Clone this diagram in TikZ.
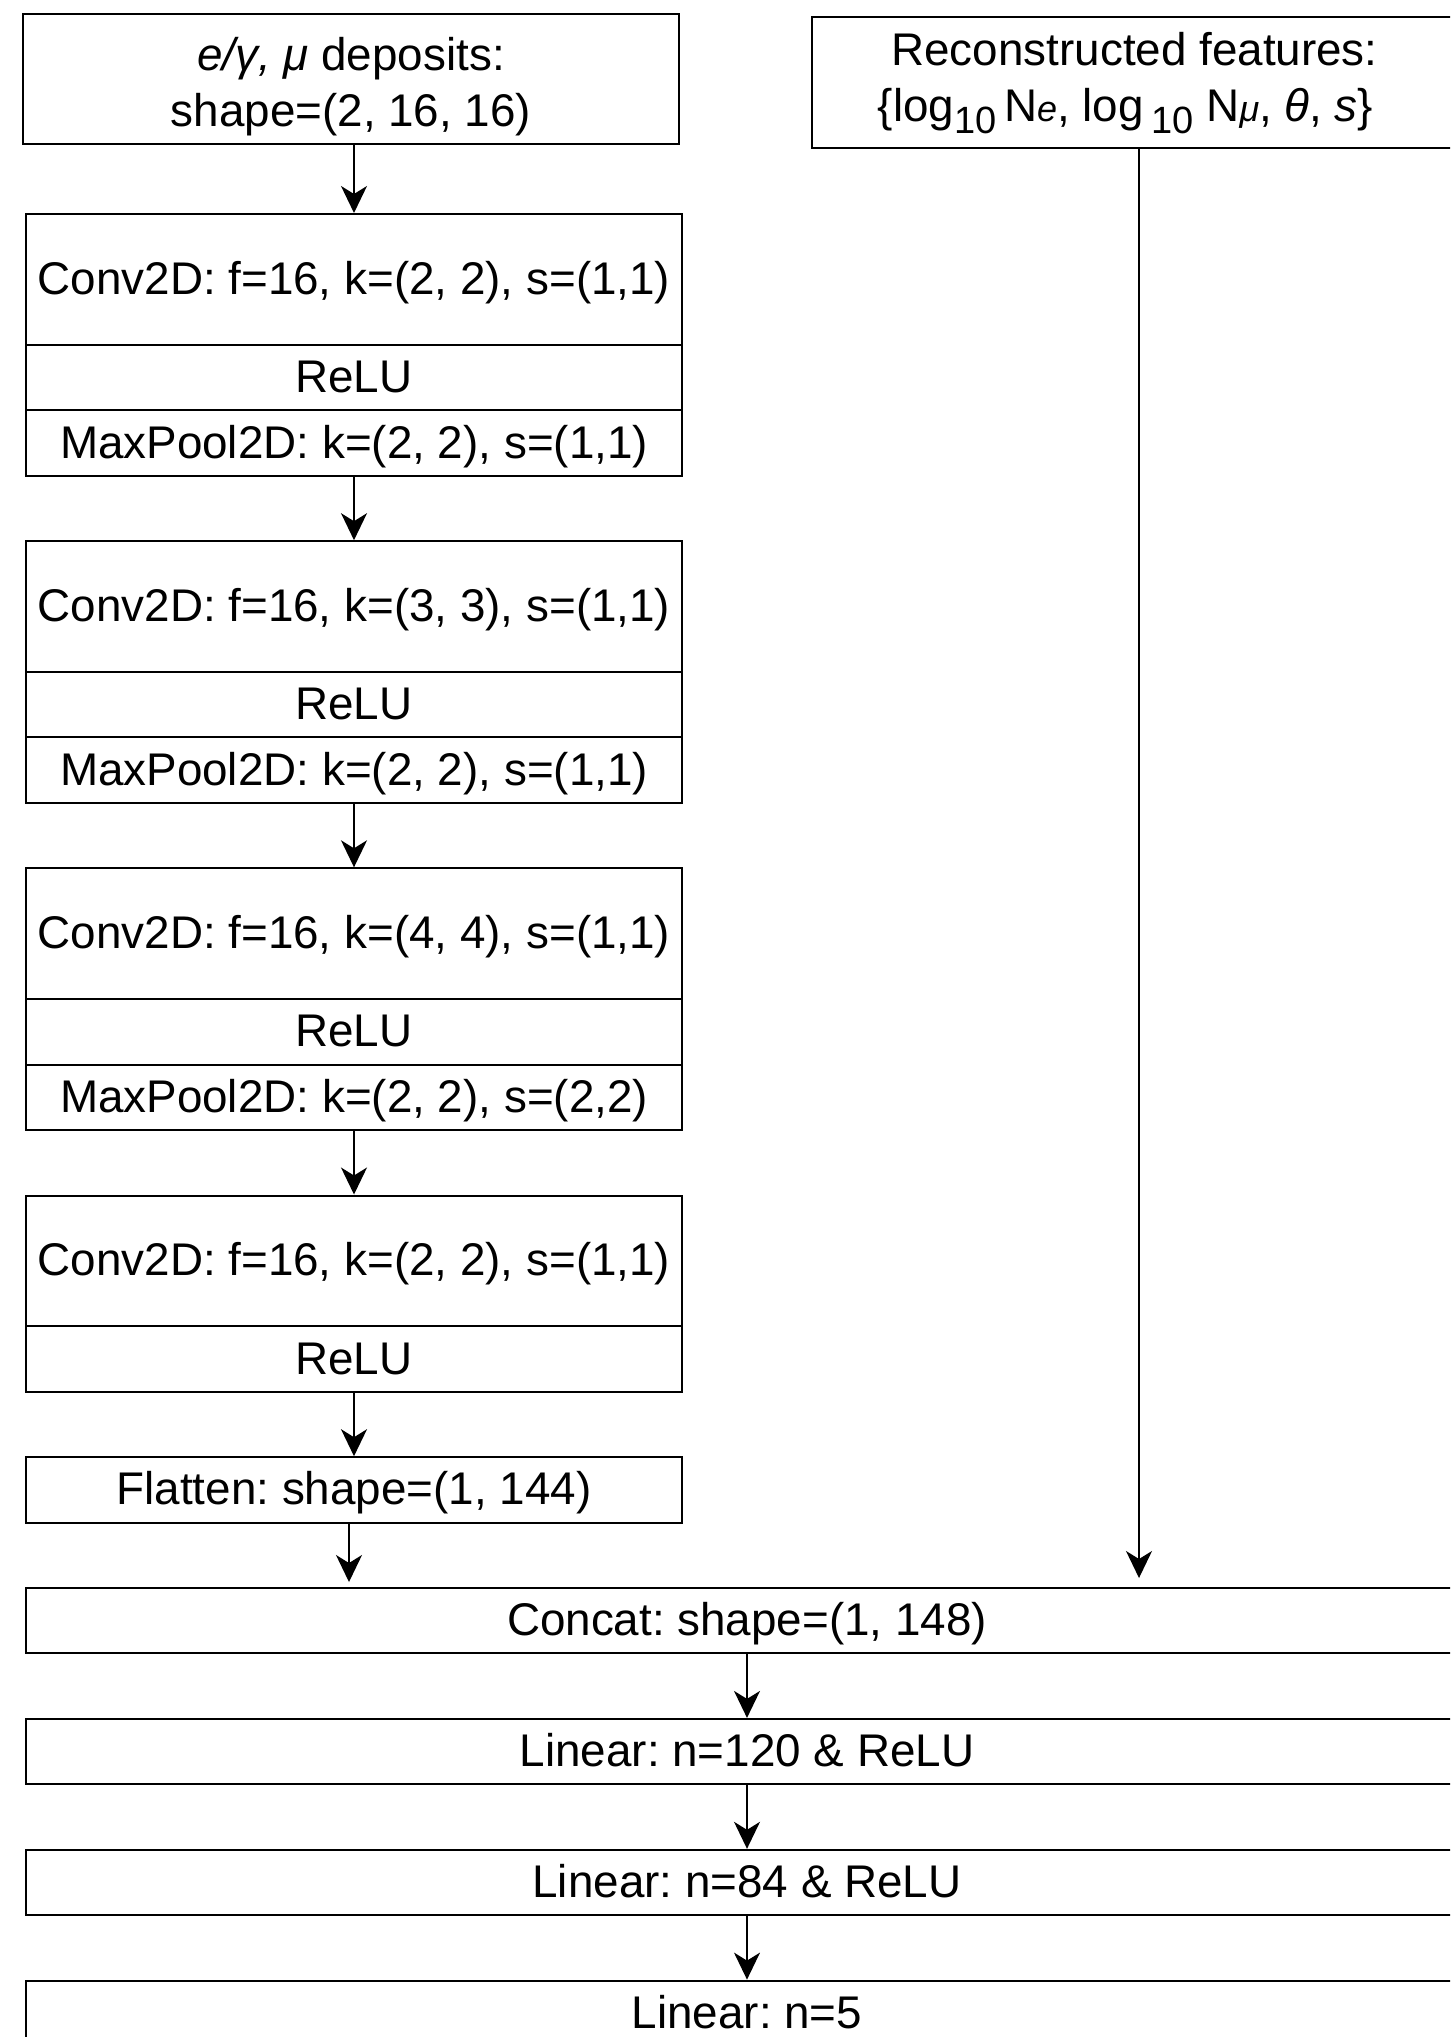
\documentclass[tikz,border=0pt]{standalone}
\usepackage{fontspec}
\setmainfont{Liberation Sans}
\usetikzlibrary{arrows.meta}
% lowered, reduced subscript used in the feature list
\newcommand{\lowten}{\raisebox{-6pt}{\fontsize{19}{19}\selectfont 10}}
\newcommand{\smallit}[1]{{\fontsize{18}{18}\selectfont\itshape #1}}

\begin{document}
\frenchspacing
\begin{tikzpicture}[x=0.5pt,y=-0.5pt,
  font=\fontsize{22.9}{28}\selectfont,
  box/.style={draw, line width=1pt, inner sep=0pt, anchor=north west, align=center},
  oneline/.style={text height=16pt, text depth=1pt},
  col/.style={box, oneline, minimum width=328pt},
  wide/.style={box, oneline, minimum width=721pt, minimum height=32.715pt},
  convrow/.style={col, minimum height=65.43pt},
  row/.style={col, minimum height=32.715pt},
  arr/.style={line width=0.8pt, -{Stealth[length=13.5pt,width=13pt,inset=4pt]}}]

\useasboundingbox (0,0) rectangle (1450,2037);
\clip (0,0) rectangle (1450,2037);

% inputs
\node[box, minimum width=328pt, minimum height=65pt] (inp) at (22,13) {};
\node[align=center, inner sep=0pt] (inptext) at ([yshift=-3.6pt]inp.center)
  {{\itshape e/γ, μ} deposits:\\shape=(2, 16, 16)};
\node[box, minimum width=322.5pt, minimum height=65.75pt] (feat) at (811,16)
  {Reconstructed features:\\\{log\lowten\,N\smallit{e}, log\,\lowten{} N\smallit{μ}, \textit{θ}, \textit{s}\}\hspace*{9pt}};

% convolutional blocks
\node[convrow] (c1) at (25,213)    {Conv2D: f=16, k=(2, 2), s=(1,1)};
\node[row]     (r1) at (25,343.9)  {ReLU};
\node[row]     (p1) at (25,409.3)  {MaxPool2D: k=(2, 2), s=(1,1)};

\node[convrow] (c2) at (25,540.2)  {Conv2D: f=16, k=(3, 3), s=(1,1)};
\node[row]     (r2) at (25,671.0)  {ReLU};
\node[row]     (p2) at (25,736.4)  {MaxPool2D: k=(2, 2), s=(1,1)};

\node[convrow] (c3) at (25,867.3)  {Conv2D: f=16, k=(4, 4), s=(1,1)};
\node[row]     (r3) at (25,998.2)  {ReLU};
\node[row]     (p3) at (25,1063.6) {MaxPool2D: k=(2, 2), s=(2,2)};

\node[convrow] (c4) at (25,1194.5) {Conv2D: f=16, k=(2, 2), s=(1,1)};
\node[row]     (r4) at (25,1325.3) {ReLU};

\node[row]     (fl) at (25,1456.2) {Flatten: shape=(1, 144)};

% dense head
\node[wide] (cat) at (25,1587.0) {Concat: shape=(1, 148)};
\node[wide] (l1)  at (25,1717.9) {Linear: n=120 \& ReLU};
\node[wide] (l2)  at (25,1848.8) {Linear: n=84 \& ReLU};
\node[wide] (l3)  at (25,1979.6) {Linear: n=5};

% free ends of the two arrows entering the concat layer
\coordinate (catL) at (349,1582);
\coordinate (catR) at (1139,1578);

% connectors
\draw[arr] (c1.north |- inp.south) -- (c1.north);
\draw[arr] (p1.south) -- (c2.north);
\draw[arr] (p2.south) -- (c3.north);
\draw[arr] (p3.south) -- (c4.north);
\draw[arr] (r4.south) -- (fl.north);
\draw[arr] (catL |- fl.south) -- (catL);
\draw[arr] (catR |- feat.south) -- (catR);
\draw[arr] (cat.south) -- (l1.north);
\draw[arr] (l1.south) -- (l2.north);
\draw[arr] (l2.south) -- (l3.north);
\end{tikzpicture}
\end{document}
